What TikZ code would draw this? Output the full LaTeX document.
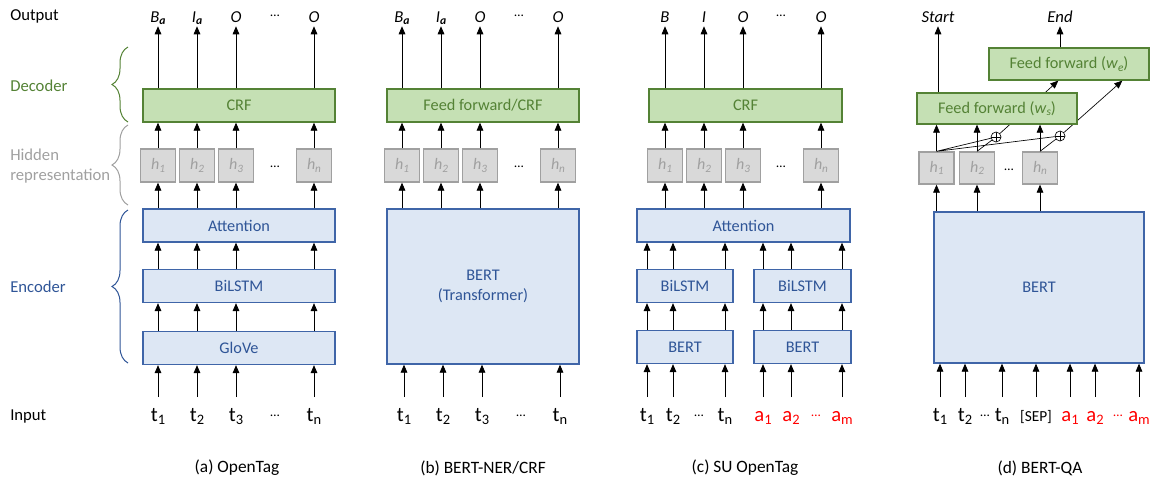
\documentclass[tikz,border=0pt]{standalone}
\usepackage{fontspec}
\setmainfont{Carlito}
\usetikzlibrary{arrows.meta,decorations.pathreplacing}

\definecolor{decline}{HTML}{548235}
\definecolor{decfill}{HTML}{C5E0B4}
\definecolor{encline}{HTML}{3F65A8}
\definecolor{encfill}{HTML}{DDE7F4}
\definecolor{enctext}{HTML}{2F5597}
\definecolor{hline}{HTML}{A0A0A0}
\definecolor{hfill}{HTML}{D9D9D9}
\definecolor{htext}{HTML}{A0A0A0}
\definecolor{attrred}{HTML}{FF0000}

\newlength\pxu
\setlength\pxu{0.75pt}
\newcommand\lowsub[1]{\raisebox{-0.35ex}{\scalebox{0.7}{#1}}}

\begin{document}
\begin{tikzpicture}[x=0.75pt, y=-0.75pt,
    arr/.style={-{Triangle[width=5pt,length=6pt]}, line width=0.6pt},
    inarr/.style={arr, shorten <=7pt},
    encbox/.style={draw=encline, fill=encfill, line width=1pt, text=enctext,
        minimum height=33\pxu, inner sep=0pt, font=\fontsize{12.2}{14.5}\selectfont},
    decbox/.style={draw=decline, fill=decfill, line width=1pt, text=decline,
        minimum height=33\pxu, inner sep=0pt, font=\fontsize{12.2}{14.5}\selectfont},
    hbox/.style={draw=hline, fill=hfill, line width=1pt, text=htext,
        minimum width=35\pxu, minimum height=33\pxu, inner sep=0pt,
        font=\fontsize{12}{14}\selectfont\itshape},
    outlab/.style={inner sep=0pt, text height=9pt, text depth=3pt,
        font=\fontsize{12.5}{15}\selectfont\itshape},
    inlab/.style={inner sep=0pt, text height=11pt, text depth=3pt,
        font=\fontsize{15.5}{18}\selectfont},
    rowlab/.style={anchor=west, inner sep=0pt, font=\fontsize{12.5}{15}\selectfont},
    caplab/.style={font=\fontsize{13}{15}\selectfont},
    brace/.style={decorate, decoration={brace, amplitude=12pt}, line width=0.75pt},
    plus/.style={circle, draw, fill=white, line width=0.5pt, minimum size=10\pxu, inner sep=0pt,
        path picture={\draw[line width=0.5pt] (path picture bounding box.north) -- (path picture bounding box.south)
            (path picture bounding box.west) -- (path picture bounding box.east);}}
]
    \useasboundingbox (0,0) rectangle (1156,479);

    % Row labels and braces on the left
    \node[rowlab] (lOut) at (10,16) {Output};
    \node[rowlab, text=decline] (lDec) at (10,86) {Decoder};
    \node[rowlab, text=htext, align=left] (lHid) at (10,166) {Hidden\\representation};
    \node[rowlab, text=enctext] (lEnc) at (10,287) {Encoder};
    \node[rowlab] (lIn) at (10,416) {Input};
    \draw[brace, decline] (128,122) -- (128,47);
    \draw[brace, htext] (128,205) -- (128,125);
    \draw[brace, enctext] (128,363) -- (128,210);

    % (a) OpenTag
    \node[decbox, minimum width=192\pxu] (crfA) at (239,105.5) {CRF};
    \node[encbox, minimum width=192\pxu] (attA) at (239,225.5) {Attention};
    \node[encbox, minimum width=192\pxu] (lstmA) at (239,286) {BiLSTM};
    \node[encbox, minimum width=192\pxu] (gloveA) at (239,348) {GloVe};
    \foreach \n/\x/\o in {1/158/{B\lowsub{\textbf{a}}}, 2/197/{I\lowsub{\textbf{a}}}, 3/236/O, n/314/O} {
        \node[hbox] (hA\n) at (\x,165.5) {h\lowsub{\n}};
        \node[outlab] (oA\n) at (\x,18) {\o};
        \node[inlab] (tA\n) at (\x,416) {t\lowsub{\n}};
        \draw[arr] (crfA.north -| oA\n) -- (oA\n);
        \draw[arr] (hA\n) -- (crfA.south -| hA\n);
        \draw[arr] (attA.north -| hA\n) -- (hA\n);
        \draw[arr] (lstmA.north -| hA\n) -- (attA.south -| hA\n);
        \draw[arr] (gloveA.north -| hA\n) -- (lstmA.south -| hA\n);
        \draw[inarr] (tA\n) -- (gloveA.south -| tA\n);
    }
    \node (dAo) at (275,16) {…};
    \node (dAh) at (275,167) {…};
    \node (dAi) at (275,416) {…};
    \node[caplab] (capA) at (237,468) {(a) OpenTag};

    % (b) BERT-NER/CRF
    \node[decbox, minimum width=192\pxu] (ffB) at (483,105.5) {Feed forward/CRF};
    \node[encbox, minimum width=192\pxu, minimum height=155\pxu, align=center] (bertB) at (483,286.5) {BERT\\(Transformer)};
    \foreach \n/\x/\o in {1/402/{B\lowsub{\textbf{a}}}, 2/441/{I\lowsub{\textbf{a}}}, 3/480/O, n/558/O} {
        \node[hbox] (hB\n) at (\x,165.5) {h\lowsub{\n}};
        \node[outlab] (oB\n) at (\x,18) {\o};
        \node[inlab] (tB\n) at (\x+2,416) {t\lowsub{\n}};
        \draw[arr] (ffB.north -| oB\n) -- (oB\n);
        \draw[arr] (hB\n) -- (ffB.south -| hB\n);
        \draw[arr] (bertB.north -| hB\n) -- (hB\n);
        \draw[inarr] (tB\n) -- (bertB.south -| tB\n);
    }
    \node (dBo) at (519,16) {…};
    \node (dBh) at (519,167) {…};
    \node (dBi) at (521,416) {…};
    \node[caplab] (capB) at (483,468) {(b) BERT-NER/CRF};

    % (c) SU OpenTag
    \node[decbox, minimum width=193\pxu] (crfC) at (745.5,105.5) {CRF};
    \node[encbox, minimum width=213\pxu] (attC) at (743.5,225.5) {Attention};
    \node[encbox, minimum width=96\pxu] (lstmC1) at (685,286) {BiLSTM};
    \node[encbox, minimum width=97\pxu] (lstmC2) at (802.5,286) {BiLSTM};
    \node[encbox, minimum width=96\pxu] (bertC1) at (685,347) {BERT};
    \node[encbox, minimum width=97\pxu] (bertC2) at (802.5,347) {BERT};
    \foreach \n/\x/\o in {1/665/B, 2/704/I, 3/743/O, n/821/O} {
        \node[hbox] (hC\n) at (\x,165.5) {h\lowsub{\n}};
        \node[outlab] (oC\n) at (\x,18) {\o};
        \draw[arr] (crfC.north -| oC\n) -- (oC\n);
        \draw[arr] (hC\n) -- (crfC.south -| hC\n);
        \draw[arr] (attC.north -| hC\n) -- (hC\n);
    }
    \foreach \n/\x/\l/\c in {1/647/t/black, 2/673/t/black, n/725/t/black,
                            1/763/a/attrred, 2/791/a/attrred, m/842/a/attrred} {
        \node[inlab, text=\c] (i\l\n) at (\x,416) {\l\lowsub{\n}};
    }
    \foreach \t in {t1,t2,tn} {
        \draw[arr] (lstmC1.north -| i\t) -- (attC.south -| i\t);
        \draw[arr] (bertC1.north -| i\t) -- (lstmC1.south -| i\t);
        \draw[inarr] (i\t) -- (bertC1.south -| i\t);
    }
    \foreach \t in {a1,a2,am} {
        \draw[arr] (lstmC2.north -| i\t) -- (attC.south -| i\t);
        \draw[arr] (bertC2.north -| i\t) -- (lstmC2.south -| i\t);
        \draw[inarr] (i\t) -- (bertC2.south -| i\t);
    }
    \node (dCo) at (781,16) {…};
    \node (dCh) at (781,167) {…};
    \node (dCi1) at (699,416) {…};
    \node[text=attrred] (dCi2) at (816,416) {…};
    \node[caplab] (capC) at (745,468) {(c) SU OpenTag};

    % (d) BERT-QA
    \node[decbox, minimum width=160\pxu, minimum height=32\pxu] (weD) at (1069,64) {Feed forward (\textit{w}\lowsub{\textit{e}})};
    \node[encbox, minimum width=210\pxu, minimum height=151\pxu] (bertD) at (1039,287.5) {BERT};
    \foreach \n/\x in {1/936.5, 2/977, n/1040} {
        \node[hbox, minimum height=32\pxu] (hD\n) at (\x,168) {h\lowsub{\n}};
        \draw[arr] (bertD.north -| hD\n) -- (hD\n);
    }
    \node (dDh) at (1009,170) {…};
    \node[plus] (plusD1) at (996,137) {};
    \node[plus] (plusD2) at (1060,136) {};
    \draw[line width=0.5pt] (hD1.north) -- (plusD1) (hD1.north) -- (plusD2)
        (hD2.north) -- (plusD1) (hDn.north) -- (plusD2);
    \draw[arr, line width=0.5pt] (plusD1) -- ([xshift=-8pt]weD.south);
    \draw[arr, line width=0.5pt] (plusD2) -- ([xshift=40pt]weD.south);
    \node[decbox, minimum width=160\pxu, minimum height=31\pxu] (wsD) at (997,108.5) {Feed forward (\textit{w}\lowsub{\textit{s}})};
    \foreach \n in {1,2,n} {
        \draw[arr] (hD\n) -- (wsD.south -| hD\n);
    }
    \node[outlab] (oDs) at (938,18) {Start};
    \node[outlab] (oDe) at (1060,18) {End};
    \draw[arr] (wsD.north -| oDs) -- (oDs);
    \draw[arr] (weD.north -| oDe) -- (oDe);
    \foreach \n/\x/\txt/\c in {1/940/{t\lowsub{1}}/black, 2/965/{t\lowsub{2}}/black,
                              3/1002/{t\lowsub{n}}/black, 4/1036/{\fontsize{11.5}{14}\selectfont[SEP]}/black,
                              5/1070/{a\lowsub{1}}/attrred, 6/1095/{a\lowsub{2}}/attrred,
                              7/1139/{a\lowsub{m}}/attrred} {
        \node[inlab, text=\c] (iD\n) at (\x,416) {\txt};
        \draw[inarr] (iD\n) -- (bertD.south -| iD\n);
    }
    \node (dDi1) at (985,416) {…};
    \node[text=attrred] (dDi2) at (1118,416) {…};
    \node[caplab] (capD) at (1040,468) {(d) BERT-QA};
\end{tikzpicture}
\end{document}
